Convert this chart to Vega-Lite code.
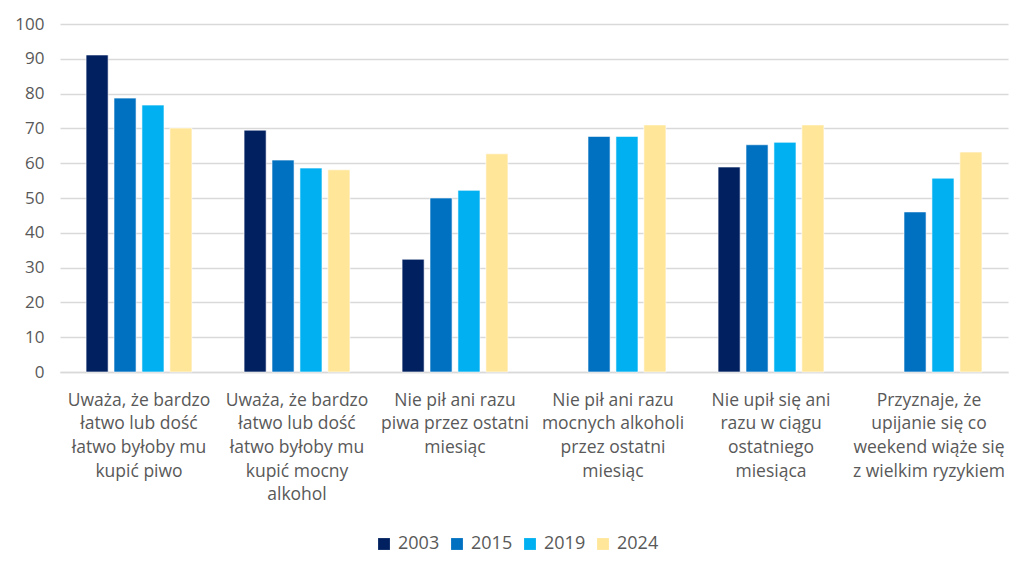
{
  "$schema": "https://vega.github.io/schema/vega-lite/v6.json",
  "autosize": "none",
  "width": 948,
  "height": 348,
  "padding": {"left": 60, "top": 24, "right": 16, "bottom": 192},
  "background": "white",
  "config": {
    "view": {"stroke": null},
    "font": "Open Sans"
  },
  "data": {
    "values": [
      {"cat": "Uważa, że bardzo|łatwo lub dość|łatwo byłoby mu|kupić piwo", "ord": 1, "year": "2003", "value": 91.1},
      {"cat": "Uważa, że bardzo|łatwo lub dość|łatwo byłoby mu|kupić piwo", "ord": 1, "year": "2015", "value": 78.7},
      {"cat": "Uważa, że bardzo|łatwo lub dość|łatwo byłoby mu|kupić piwo", "ord": 1, "year": "2019", "value": 76.7},
      {"cat": "Uważa, że bardzo|łatwo lub dość|łatwo byłoby mu|kupić piwo", "ord": 1, "year": "2024", "value": 70.1},
      {"cat": "Uważa, że bardzo|łatwo lub dość|łatwo byłoby mu|kupić mocny|alkohol", "ord": 2, "year": "2003", "value": 69.5},
      {"cat": "Uważa, że bardzo|łatwo lub dość|łatwo byłoby mu|kupić mocny|alkohol", "ord": 2, "year": "2015", "value": 60.9},
      {"cat": "Uważa, że bardzo|łatwo lub dość|łatwo byłoby mu|kupić mocny|alkohol", "ord": 2, "year": "2019", "value": 58.6},
      {"cat": "Uważa, że bardzo|łatwo lub dość|łatwo byłoby mu|kupić mocny|alkohol", "ord": 2, "year": "2024", "value": 58.1},
      {"cat": "Nie pił ani razu|piwa przez ostatni|miesiąc", "ord": 3, "year": "2003", "value": 32.4},
      {"cat": "Nie pił ani razu|piwa przez ostatni|miesiąc", "ord": 3, "year": "2015", "value": 50.0},
      {"cat": "Nie pił ani razu|piwa przez ostatni|miesiąc", "ord": 3, "year": "2019", "value": 52.2},
      {"cat": "Nie pił ani razu|piwa przez ostatni|miesiąc", "ord": 3, "year": "2024", "value": 62.7},
      {"cat": "Nie pił ani razu|mocnych alkoholi|przez ostatni|miesiąc", "ord": 4, "year": "2015", "value": 67.7},
      {"cat": "Nie pił ani razu|mocnych alkoholi|przez ostatni|miesiąc", "ord": 4, "year": "2019", "value": 67.7},
      {"cat": "Nie pił ani razu|mocnych alkoholi|przez ostatni|miesiąc", "ord": 4, "year": "2024", "value": 71.0},
      {"cat": "Nie upił się ani|razu w ciągu|ostatniego|miesiąca", "ord": 5, "year": "2003", "value": 58.9},
      {"cat": "Nie upił się ani|razu w ciągu|ostatniego|miesiąca", "ord": 5, "year": "2015", "value": 65.3},
      {"cat": "Nie upił się ani|razu w ciągu|ostatniego|miesiąca", "ord": 5, "year": "2019", "value": 66.0},
      {"cat": "Nie upił się ani|razu w ciągu|ostatniego|miesiąca", "ord": 5, "year": "2024", "value": 71.0},
      {"cat": "Przyznaje, że|upijanie się co|weekend wiąże się|z wielkim ryzykiem", "ord": 6, "year": "2015", "value": 46.0},
      {"cat": "Przyznaje, że|upijanie się co|weekend wiąże się|z wielkim ryzykiem", "ord": 6, "year": "2019", "value": 55.7},
      {"cat": "Przyznaje, że|upijanie się co|weekend wiąże się|z wielkim ryzykiem", "ord": 6, "year": "2024", "value": 63.2}
    ]
  },
  "mark": {"type": "bar", "stroke": "white", "strokeWidth": 0.6},
  "encoding": {
    "x": {
      "field": "cat",
      "type": "nominal",
      "sort": {"field": "ord", "op": "min"},
      "scale": {"paddingInner": 0.33, "paddingOuter": 0.165},
      "axis": {
        "title": null,
        "labelAngle": 0,
        "labelExpr": "split(datum.label, '|')",
        "labelFontSize": 17.5,
        "labelColor": "#595959",
        "labelLineHeight": 23.7,
        "labelPadding": 19,
        "labelBaseline": "top",
        "ticks": false,
        "domain": true,
        "domainColor": "#d9d9d9",
        "domainWidth": 1.5,
        "labelLimit": 0
      }
    },
    "xOffset": {
      "field": "year",
      "type": "nominal",
      "scale": {"domain": ["2003", "2015", "2019", "2024"], "paddingInner": 0.21}
    },
    "y": {
      "field": "value",
      "type": "quantitative",
      "scale": {"domain": [0, 100], "nice": false},
      "axis": {
        "title": null,
        "values": [0, 10, 20, 30, 40, 50, 60, 70, 80, 90, 100],
        "labelFontSize": 17,
        "labelColor": "#595959",
        "labelPadding": 16,
        "ticks": false,
        "domain": false,
        "gridColor": "#d9d9d9",
        "gridWidth": 1.5
      }
    },
    "color": {
      "field": "year",
      "type": "nominal",
      "scale": {"domain": ["2003", "2015", "2019", "2024"], "range": ["#002060", "#0070c0", "#00b0f0", "#ffe699"]},
      "legend": {
        "title": null,
        "orient": "none",
        "legendX": 315,
        "legendY": 511,
        "direction": "horizontal",
        "columns": 4,
        "symbolType": "square",
        "symbolSize": 140,
        "symbolStrokeWidth": 0,
        "labelFontSize": 18,
        "labelColor": "#595959",
        "labelOffset": 5,
        "columnPadding": 8
      }
    }
  }
}
